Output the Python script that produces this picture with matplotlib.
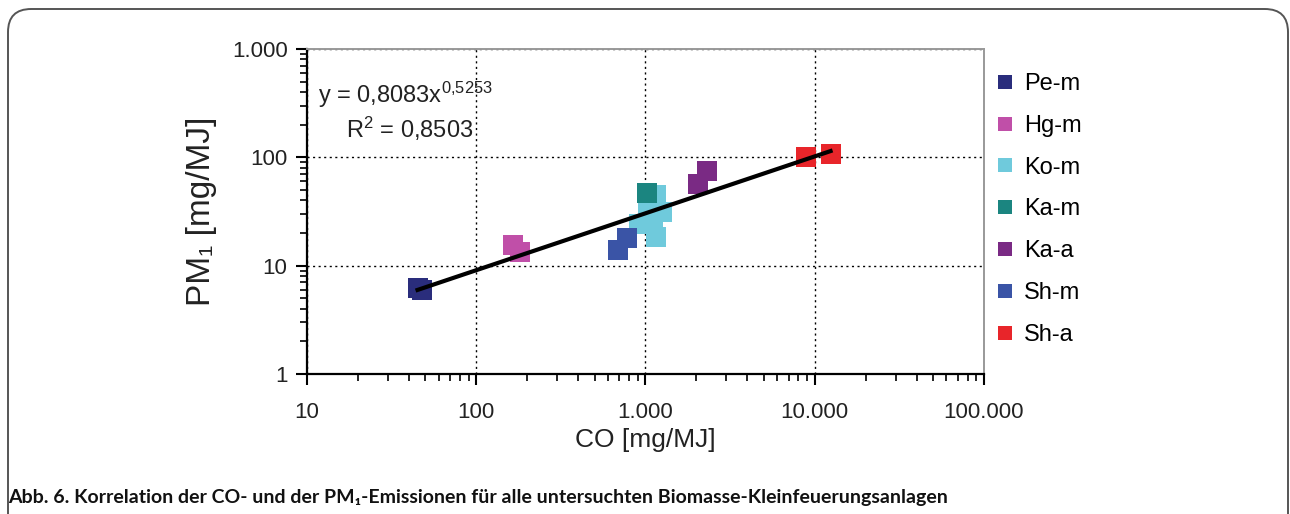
import matplotlib.pyplot as plt
import matplotlib.ticker as ticker
from matplotlib.patches import FancyBboxPatch
from matplotlib.lines import Line2D
import numpy as np

plt.rcParams['font.family'] = ['Liberation Sans', 'DejaVu Sans']
plt.rcParams['mathtext.fontset'] = 'custom'
plt.rcParams['mathtext.rm'] = 'Liberation Sans'
plt.rcParams['mathtext.default'] = 'regular'

# CO [mg/MJ] and PM1 [mg/MJ] per plant group
series = ['Pe-m', 'Hg-m', 'Ko-m', 'Ka-m', 'Ka-a', 'Sh-m', 'Sh-a']
colors = ['#2a2d7c', '#c04fa8', '#6fcadc', '#1b8580', '#7a2a84', '#3a54a6', '#e8252a']
co = [
    [45, 48],
    [164, 181],
    [1150, 1260, 1030, 920, 1150, 1100],
    [1020],
    [2050, 2310],
    [690, 780],
    [8900, 12400],
]
pm = [
    [6.2, 6.0],
    [15.4, 13.4],
    [45, 31, 31, 24, 18.5, 27],
    [47],
    [57, 74.5],
    [14.1, 17.9],
    [100, 108],
]
fit_a = 0.8083
fit_b = 0.5253

x_ticks = [10, 100, 1000, 10000, 100000]
x_labels = ['10', '100', '1.000', '10.000', '100.000']
y_ticks = [1, 10, 100, 1000]
y_labels = ['1', '10', '100', '1.000']

fig = plt.figure(figsize=(12.9, 5.14), dpi=100)
frame = FancyBboxPatch((8 / 1290, -0.1), 1280 / 1290, 1.1 - 9 / 514,
                       boxstyle='round,pad=0,rounding_size=0.018',
                       transform=fig.transFigure, fill=False,
                       edgecolor='#555555', lw=1.4, mutation_aspect=2.5)
fig.patches.append(frame)

ax = fig.add_axes([307 / 1290, 140 / 514, 677 / 1290, 325 / 514])
ax.set_xscale('log')
ax.set_yscale('log')
ax.set_xlim(10, 100000)
ax.set_ylim(1, 1000)

for name, c, xs, ys in zip(series, colors, co, pm):
    ax.scatter(xs, ys, marker='s', s=205, color=c, linewidths=0, zorder=3)

all_x = np.concatenate([np.array(v, float) for v in co])
xf = np.logspace(np.log10(all_x.min()), np.log10(all_x.max()), 50)
ax.plot(xf, fit_a * xf ** fit_b, color='black', lw=3, zorder=4)

ax.xaxis.set_major_locator(ticker.FixedLocator(x_ticks))
ax.xaxis.set_major_formatter(ticker.FixedFormatter(x_labels))
ax.yaxis.set_major_locator(ticker.FixedLocator(y_ticks))
ax.yaxis.set_major_formatter(ticker.FixedFormatter(y_labels))
ax.xaxis.set_minor_locator(ticker.LogLocator(base=10, subs=np.arange(2, 10)))
ax.yaxis.set_minor_locator(ticker.LogLocator(base=10, subs=np.arange(2, 10)))
ax.xaxis.set_minor_formatter(ticker.NullFormatter())
ax.yaxis.set_minor_formatter(ticker.NullFormatter())
ax.tick_params(axis='both', which='major', direction='out', length=8, width=1.5,
               labelsize=16, pad=12, colors='black', labelcolor='#222222')
ax.tick_params(axis='both', which='minor', direction='out', length=5, width=1.2)
ax.tick_params(axis='y', which='major', pad=6)

ax.grid(True, which='major', color='black', linestyle=(0, (1.5, 2.5)), lw=1)
ax.spines['left'].set_linewidth(1.6)
ax.spines['bottom'].set_linewidth(1.6)
ax.spines['top'].set_color('#999999')
ax.spines['right'].set_color('#999999')
ax.spines['top'].set_linewidth(1.4)
ax.spines['right'].set_linewidth(1.4)

ax.set_xlabel('CO [mg/MJ]', fontsize=19, labelpad=4, color='#222222')
ax.set_ylabel('PM₁ [mg/MJ]', fontsize=24, labelpad=11, color='#222222')

ax.text(0.016, 0.86, 'y = 0,8083x$^{0{,}5253}$', transform=ax.transAxes,
        fontsize=17, va='center', ha='left', color='#222222')
ax.text(0.057, 0.755, 'R$^{2}$ = 0,8503', transform=ax.transAxes,
        fontsize=17, va='center', ha='left', color='#222222')

handles = [Line2D([], [], marker='s', linestyle='none', markersize=10.5,
                  color=c, markeredgewidth=0) for c in colors]
fig.legend(handles, series, loc='upper left', bbox_to_anchor=(996 / 1290, 1 - 73 / 514),
           frameon=False, fontsize=17, handlelength=0.8, handletextpad=0.4,
           labelspacing=0.84, borderaxespad=0, borderpad=0)

fig.text(8 / 1290, 1 - 497 / 514,
         'Abb. 6. Korrelation der CO- und der PM₁-Emissionen für alle untersuchten Biomasse-Kleinfeuerungsanlagen',
         fontsize=14, fontweight='bold', family=['Lato', 'DejaVu Sans'],
         va='center', ha='left', color='#111111')

fig.savefig('out.png', dpi=100)
